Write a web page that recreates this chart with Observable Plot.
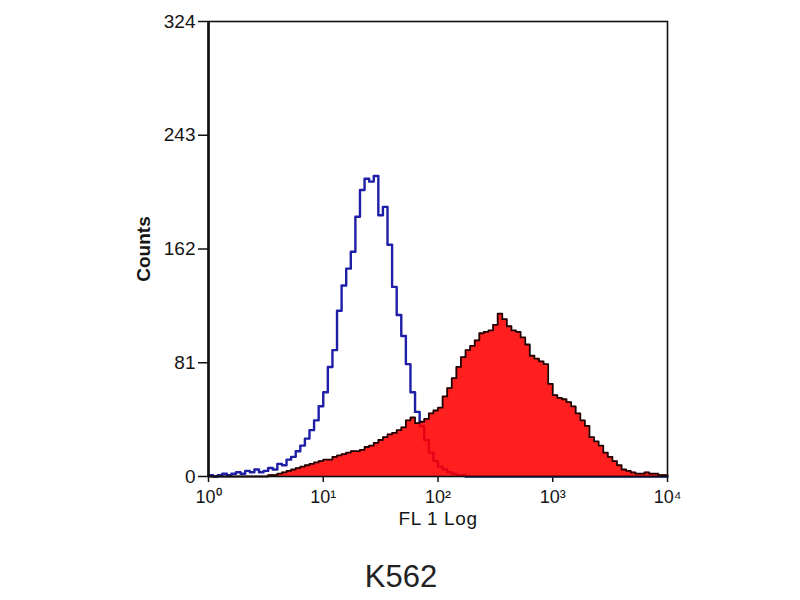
<!DOCTYPE html>
<html>
<head>
<meta charset="utf-8">
<script src="https://cdn.jsdelivr.net/npm/d3@7"></script>
<script src="https://cdn.jsdelivr.net/npm/@observablehq/plot@0.6"></script>
<style>
  html, body { margin: 0; padding: 0; background: #fff; }
  #wrap { width: 800px; height: 600px; position: relative; font-family: "Liberation Sans", Arial, sans-serif; }
  #chart svg text { font-family: "Liberation Sans", Arial, sans-serif !important; fill: #151515; }
  #chart g[aria-label="x-axis tick label"], #chart g[aria-label="x-axis tick label"] text { font-size: 18px !important; }
  #chart g[aria-label="y-axis tick label"], #chart g[aria-label="y-axis tick label"] text { font-size: 19px !important; }
  #chart g[aria-label="x-axis label"], #chart g[aria-label="x-axis label"] text { font-size: 19px !important; letter-spacing: 0.6px; }
  #chart g[aria-label="y-axis label"], #chart g[aria-label="y-axis label"] text { font-size: 19px !important; font-weight: bold; }
  #caption { position: absolute; left: 0; width: 802px; top: 559px; text-align: center; font-size: 31px; color: #222; }
</style>
</head>
<body>
<div id="wrap">
  <div id="chart"></div>
  <div id="caption">K562</div>
</div>
<script>
// 100 log channels spanning 4 decades (10^0 .. 10^4), 25 channels per decade
const channelsPerDecade = 25;
const yTicks = [0, 81, 162, 243, 324];
const xTicks = [1, 10, 100, 1000, 10000];
const xTickLabels = ["10⁰", "10¹", "10²", "10³", "10⁴"];

// isotype control (blue outline)
const isotypeCounts = [
  1, 0, 1, 2, 1, 2, 3, 2, 4, 3,
  5, 3, 4, 6, 5, 9, 8, 12, 14, 18,
  22, 27, 33, 40, 50, 60, 78, 90, 118, 136,
  148, 160, 185, 204, 212, 210, 214, 186, 192, 165,
  135, 115, 100, 80, 60, 46, 36, 26, 17, 11,
  7, 5, 3, 2, 1, 1, 0, 0, 0, 0,
  0, 0, 0, 0, 0, 0, 0, 0, 0, 0,
  0, 0, 0, 0, 0, 0, 0, 0, 0, 0,
  0, 0, 0, 0, 0, 0, 0, 0, 0, 0,
  0, 0, 0, 0, 0, 0, 0, 0, 0, 0
];

// antibody stained (red filled)
const stainedCounts = [
  0, 0, 0, 0, 0, 0, 0, 0, 0, 0,
  0, 0, 0, 1, 1, 2, 3, 4, 5, 6,
  7, 8, 9, 10, 11, 12, 12, 14, 15, 16,
  17, 18, 18, 19, 21, 22, 24, 26, 28, 30,
  31, 33, 35, 40, 42, 38, 39, 41, 45, 47,
  49, 57, 63, 70, 78, 85, 90, 93, 97, 102,
  103, 104, 108, 116, 112, 107, 104, 103, 99, 94,
  86, 84, 82, 80, 66, 58, 56, 55, 53, 50,
  45, 40, 36, 28, 25, 22, 17, 14, 11, 8,
  5, 4, 3, 2, 2, 3, 2, 2, 1, 1
];

function toRows(counts) {
  const rows = counts.map((c, i) => ({fl: Math.pow(10, i / channelsPerDecade), count: c}));
  rows.push({fl: 10000, count: counts[counts.length - 1]});
  return rows;
}
const isotype = toRows(isotypeCounts);
const stained = toRows(stainedCounts);

const chart = Plot.plot({
  width: 800,
  height: 540,
  marginLeft: 208,
  marginRight: 133,
  marginTop: 21,
  marginBottom: 64,
  style: {fontFamily: "'Liberation Sans', Arial, sans-serif", color: "#111", background: "transparent", overflow: "visible"},
  x: {type: "log", domain: [1, 10000]},
  y: {domain: [0, 324]},
  marks: [
    Plot.axisX(xTicks, {
      tickFormat: (d) => xTickLabels[xTicks.indexOf(d)],
      tickSize: 6, tickPadding: 8, strokeWidth: 1.5,
      label: "FL 1 Log", labelAnchor: "center", labelArrow: "none", labelOffset: 48
    }),
    Plot.axisY(yTicks, {
      tickSize: 10, tickPadding: 3, strokeWidth: 1.5,
      label: "Counts", labelAnchor: "center", labelArrow: "none", labelOffset: 72
    }),
    Plot.lineY(isotype, {x: "fl", y: "count", curve: "step-after", stroke: "#1e1ea6", strokeWidth: 2.4}),
    Plot.areaY(stained, {x: "fl", y: "count", curve: "step-after", fill: "#ff0000", fillOpacity: 0.88}),
    Plot.lineY(stained, {x: "fl", y: "count", curve: "step-after", stroke: "#220000", strokeWidth: 1.8}),
    Plot.frame({stroke: "#111", strokeWidth: 1.6}),
    Plot.ruleX([1], {stroke: "#111", strokeWidth: 2.6})
  ]
});
document.getElementById("chart").appendChild(chart);
</script>
</body>
</html>
